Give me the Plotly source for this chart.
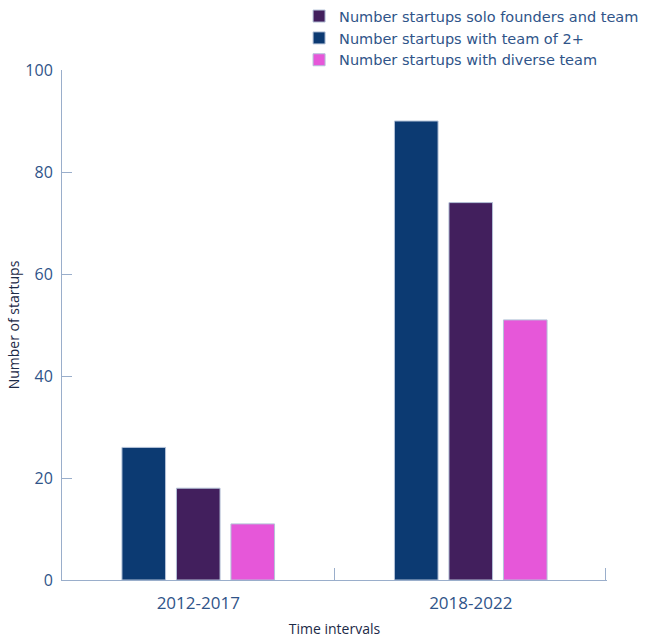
import plotly.graph_objects as go

# Time windows on the x axis
periods = ["2012-2017", "2018-2022"]

# Startup counts per period
team_of_two_plus = [26, 90]
solo_and_team = [18, 74]
diverse_team = [11, 51]

FONT = "Open Sans"
AXIS_COLOR = "#9aaecb"
TICK_COLOR = "#2f5489"
OUTLINE = "#b4c2d8"

fig = go.Figure()

fig.add_trace(go.Bar(
    x=periods, y=team_of_two_plus,
    name="Number startups with team of 2+",
    marker=dict(color="#0c3a72", line=dict(color=OUTLINE, width=1)),
    legendrank=2,
))
fig.add_trace(go.Bar(
    x=periods, y=solo_and_team,
    name="Number startups solo founders and team",
    marker=dict(color="#421f5d", line=dict(color=OUTLINE, width=1)),
    legendrank=1,
))
fig.add_trace(go.Bar(
    x=periods, y=diverse_team,
    name="Number startups with diverse team",
    marker=dict(color="#e657d9", line=dict(color=OUTLINE, width=1)),
    legendrank=3,
))

fig.update_layout(
    width=646, height=639,
    margin=dict(l=62, r=39, t=70, b=59, autoexpand=False),
    paper_bgcolor="white",
    plot_bgcolor="white",
    barmode="group",
    bargap=0.40,
    bargroupgap=0.2,
    font=dict(family=FONT, color=TICK_COLOR),
    legend=dict(
        x=0.435, y=1.137, xanchor="left", yanchor="top",
        font=dict(size=14.5, color="#2f5489", family="DejaVu Sans"),
        tracegroupgap=0, itemwidth=30,
        bgcolor="rgba(0,0,0,0)",
    ),
    showlegend=True,
    # overlay axis carrying the category boundary ticks (middle and right end)
    xaxis2=dict(
        overlaying="x", anchor="y", side="bottom",
        range=[-0.5, 1.5], tickvals=[0.5, 1.496],
        showticklabels=False, showline=False, showgrid=False, zeroline=False,
        ticks="inside", ticklen=12, tickcolor=AXIS_COLOR, tickwidth=1,
    ),
)

fig.layout.xaxis.update(
    range=[-0.5, 1.5],
    showline=True, linecolor=AXIS_COLOR, linewidth=1,
    ticks="", ticklabelstandoff=8,
    tickfont=dict(size=17, color=TICK_COLOR),
    showgrid=False, zeroline=False,
    title=dict(text="Time intervals", font=dict(size=14, color="#1c2a47"), standoff=10),
)
fig.update_yaxes(
    range=[0, 100], dtick=20,
    showline=True, linecolor=AXIS_COLOR, linewidth=1,
    ticks="inside", ticklen=10, tickcolor=AXIS_COLOR, tickwidth=1,
    ticklabelstandoff=5,
    tickfont=dict(size=16, color=TICK_COLOR),
    showgrid=False, zeroline=False,
    title=dict(text="Number of startups", font=dict(size=14, color="#1c2a47"), standoff=2),
)

# an invisible trace so the overlay axis is drawn
fig.add_trace(go.Scatter(
    x=[-0.5, 1.5], y=[0, 0], xaxis="x2", mode="markers",
    marker=dict(opacity=0), showlegend=False, hoverinfo="skip",
))

fig.write_html("out.html")
